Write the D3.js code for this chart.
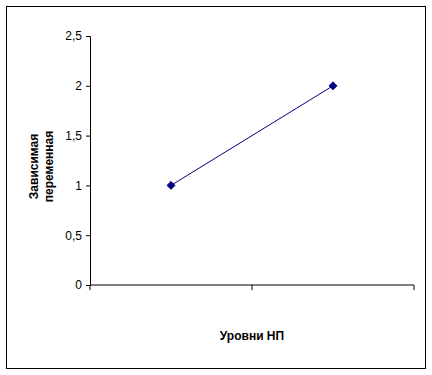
<!DOCTYPE html>
<html>
<head>
<meta charset="utf-8">
<script src="https://cdn.jsdelivr.net/npm/d3@7"></script>
<style>
  body { margin: 0; background: #fff; }
  svg { display: block; font-family: "Liberation Sans", Arial, sans-serif; }
</style>
</head>
<body>
<div id="chart"></div>
<script>
// chart data
const categories = ["Уровень 1", "Уровень 2"];
const values = [1, 2];
const yTicks = [0, 0.5, 1, 1.5, 2, 2.5];
const yTitle = ["Зависимая", "переменная"];
const xTitle = "Уровни НП";

const width = 432, height = 375;
const plot = { left: 90, right: 414, top: 36, bottom: 285 };

const svg = d3.select("#chart").append("svg")
    .attr("width", width)
    .attr("height", height);

// outer frame
svg.append("rect")
    .attr("x", 6.5).attr("y", 6.5)
    .attr("width", 419).attr("height", 362)
    .attr("fill", "#fff")
    .attr("stroke", "#000")
    .attr("stroke-width", 1);

const x = d3.scaleBand()
    .domain(categories)
    .range([plot.left, plot.right]);

const y = d3.scaleLinear()
    .domain([0, 2.5])
    .range([plot.bottom, plot.top]);

const fmt = d => String(d).replace(".", ",");

// y axis
const yAxis = svg.append("g")
    .attr("transform", `translate(${plot.left},0)`)
    .call(d3.axisLeft(y).tickValues(yTicks).tickFormat(fmt).tickSize(4).tickPadding(4));
yAxis.select(".domain").attr("stroke", "#000");
yAxis.selectAll("text").attr("font-size", 12).attr("fill", "#000")
    .attr("font-family", "Liberation Sans, Arial, sans-serif");

// x axis, ticks between categories
const xAxis = svg.append("g")
    .attr("transform", `translate(0,${plot.bottom})`);
xAxis.append("line")
    .attr("x1", plot.left).attr("x2", plot.right)
    .attr("stroke", "#000");
const edges = [x.range()[0]].concat(categories.map(c => x(c) + x.bandwidth()));
xAxis.selectAll(".tick").data(edges).enter().append("line")
    .attr("class", "tick")
    .attr("x1", d => d).attr("x2", d => d)
    .attr("y1", 0).attr("y2", 5)
    .attr("stroke", "#000");

// series line
const line = d3.line()
    .x((d, i) => x(categories[i]) + x.bandwidth() / 2)
    .y(d => y(d));

svg.append("path")
    .datum(values)
    .attr("d", line)
    .attr("fill", "none")
    .attr("stroke", "#000080")
    .attr("stroke-width", 1);

svg.selectAll(".pt").data(values).enter().append("path")
    .attr("class", "pt")
    .attr("transform", (d, i) => `translate(${x(categories[i]) + x.bandwidth() / 2},${y(d)})`)
    .attr("d", d3.symbol().type(d3.symbolDiamond2).size(40))
    .attr("fill", "#000080")
    .attr("stroke", "#000080");

// axis titles
const yt = svg.append("text")
    .attr("transform", `translate(38,${(plot.top + plot.bottom) / 2 + 6}) rotate(-90)`)
    .attr("text-anchor", "middle")
    .attr("font-size", 12)
    .attr("font-weight", "bold");
yTitle.forEach((t, i) => {
    yt.append("tspan").attr("x", 0).attr("dy", i === 0 ? 0 : 15).text(t);
});

svg.append("text")
    .attr("x", (plot.left + plot.right) / 2)
    .attr("y", 340)
    .attr("text-anchor", "middle")
    .attr("font-size", 12)
    .attr("font-weight", "bold")
    .text(xTitle);
</script>
</body>
</html>
